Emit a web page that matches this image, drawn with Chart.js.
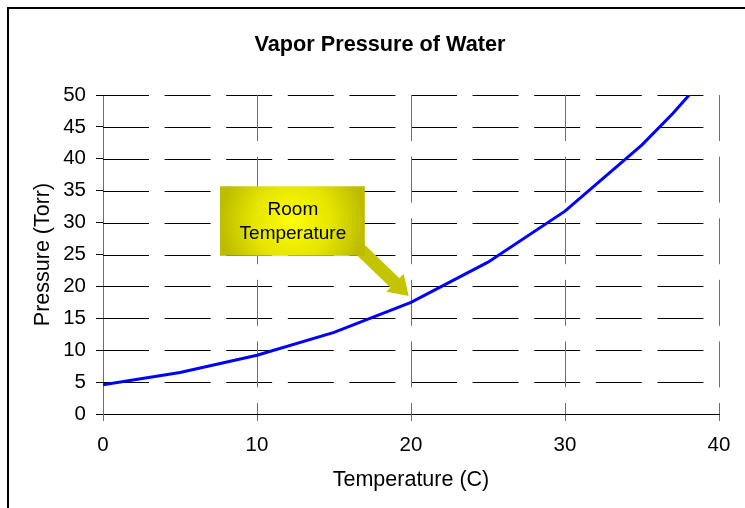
<!DOCTYPE html>
<html>
<head>
<meta charset="utf-8">
<script src="https://cdn.jsdelivr.net/npm/chart.js@4.4.1/dist/chart.umd.min.js"></script>
<style>
  html, body { margin: 0; padding: 0; background: #fff; overflow: hidden; width: 745px; height: 508px; }
  #frame { position: absolute; left: 7px; top: 7px; width: 800px; height: 600px; border: 2px solid #000; }
  #wrap { position: absolute; left: 0; top: 0; width: 760px; height: 508px; }
</style>
</head>
<body>
<div id="frame"></div>
<div id="wrap"><canvas id="vaporChart" width="760" height="508"></canvas></div>
<script>
// Vapor pressure of water (Torr) vs temperature (C)
const temps = [0, 5, 10, 15, 20, 25, 30, 35, 37, 40];
const pressures = [4.6, 6.5, 9.2, 12.8, 17.5, 23.8, 31.8, 42.2, 47.1, 55.3];

const FONT = "'Liberation Sans', Arial, sans-serif";

// annotation callout, placed in data units
const callout = {
    lines: ['Room', 'Temperature'],
    box: { x1: 7.6, x2: 17.0, y1: 35.7, y2: 24.8 },
    tail: { x: 16.7, y: 25.8 },
    tip: { x: 19.85, y: 18.5 }
};

// dashed grid drawn inside the chart area from the scale ticks
const dashedGrid = {
    id: 'dashedGrid',
    beforeDatasetsDraw(chart) {
        const { ctx, chartArea: a, scales: { x, y } } = chart;
        ctx.save();
        ctx.lineWidth = 1;
        ctx.setLineDash([46, 15.6]);
        ctx.strokeStyle = '#000';
        y.ticks.forEach(t => {
            if (t.value === 0) return;
            const py = Math.round(y.getPixelForValue(t.value)) + 0.5;
            ctx.beginPath();
            ctx.moveTo(a.left, py);
            ctx.lineTo(a.right, py);
            ctx.stroke();
        });
        ctx.strokeStyle = '#6e6e6e';
        x.ticks.forEach(t => {
            if (t.value === 0) return;
            const px = Math.round(x.getPixelForValue(t.value)) + 0.5;
            ctx.beginPath();
            ctx.moveTo(px, a.top);
            ctx.lineTo(px, a.bottom);
            ctx.stroke();
        });
        ctx.restore();
    }
};

const calloutPlugin = {
    id: 'callout',
    afterDatasetsDraw(chart) {
        const { ctx, scales: { x, y } } = chart;
        const bx1 = x.getPixelForValue(callout.box.x1), bx2 = x.getPixelForValue(callout.box.x2);
        const by1 = y.getPixelForValue(callout.box.y1), by2 = y.getPixelForValue(callout.box.y2);
        const tx = x.getPixelForValue(callout.tail.x), ty = y.getPixelForValue(callout.tail.y);
        const px = x.getPixelForValue(callout.tip.x), py = y.getPixelForValue(callout.tip.y);

        // arrow
        const dx = px - tx, dy = py - ty, len = Math.hypot(dx, dy);
        const ux = dx / len, uy = dy / len, nx = -uy, ny = ux;
        const head = 19, hw = 12.5, sw = 6.5;
        const neckX = px - ux * head, neckY = py - uy * head;
        ctx.save();
        ctx.fillStyle = '#c4c400';
        ctx.beginPath();
        ctx.moveTo(tx + nx * sw, ty + ny * sw);
        ctx.lineTo(neckX + nx * sw, neckY + ny * sw);
        ctx.lineTo(neckX + nx * hw, neckY + ny * hw);
        ctx.lineTo(px, py);
        ctx.lineTo(neckX - nx * hw, neckY - ny * hw);
        ctx.lineTo(neckX - nx * sw, neckY - ny * sw);
        ctx.lineTo(tx - nx * sw, ty - ny * sw);
        ctx.closePath();
        ctx.fill();

        // box with glow
        const cx = (bx1 + bx2) / 2, cy = (by1 + by2) / 2;
        const g = ctx.createRadialGradient(cx, cy, 0, cx, cy, (bx2 - bx1) / 2);
        g.addColorStop(0, '#ffff00');
        g.addColorStop(0.55, '#e4e400');
        g.addColorStop(1, '#bcbc00');
        ctx.fillStyle = g;
        ctx.fillRect(bx1, by1, bx2 - bx1, by2 - by1);

        ctx.fillStyle = '#000';
        ctx.font = '19px ' + FONT;
        ctx.textAlign = 'center';
        ctx.textBaseline = 'middle';
        ctx.fillText(callout.lines[0], cx + 0.5, cy - 11.5);
        ctx.fillText(callout.lines[1], cx + 0.5, cy + 13);
        ctx.restore();
    }
};

const ctx = document.getElementById('vaporChart').getContext('2d');
const vaporChart = new Chart(ctx, {
    type: 'line',
    data: {
        datasets: [{
            label: 'Vapor Pressure',
            data: temps.map((t, i) => ({ x: t, y: pressures[i] })),
            borderColor: '#0000ff',
            borderWidth: 3,
            pointRadius: 0,
            tension: 0,
            fill: false
        }]
    },
    options: {
        responsive: false,
        animation: false,
        devicePixelRatio: 1,
        layout: { padding: { left: 41, right: 41, top: 0, bottom: 0 } },
        plugins: {
            legend: { display: false },
            tooltip: { enabled: false },
            title: {
                display: true,
                text: 'Vapor Pressure of Water',
                color: '#000',
                font: { family: FONT, size: 21.7, weight: 'bold', lineHeight: 1.2 },
                padding: { top: 32, bottom: 37 }
            }
        },
        scales: {
            x: {
                type: 'linear',
                min: 0,
                max: 40,
                afterFit(scale) { scale.height = 94; },
                ticks: { stepSize: 10, color: '#000', padding: 12, font: { family: FONT, size: 20.5 } },
                grid: { drawOnChartArea: false, drawTicks: true, tickLength: 7, color: '#6e6e6e', lineWidth: 1 },
                border: { display: true, color: '#000', width: 1 },
                title: {
                    display: true,
                    text: 'Temperature (C)',
                    color: '#000',
                    font: { family: FONT, size: 21.5 },
                    padding: { top: 0, bottom: 15 }
                }
            },
            y: {
                min: 0,
                max: 50,
                afterFit(scale) { scale.width = 62; },
                ticks: { stepSize: 5, color: '#000', padding: 10, font: { family: FONT, size: 20.5 } },
                grid: { drawOnChartArea: false, drawTicks: true, tickLength: 7, color: '#000', lineWidth: 1 },
                border: { display: true, color: '#6e6e6e', width: 1 },
                title: {
                    display: true,
                    text: 'Pressure (Torr)',
                    color: '#000',
                    font: { family: FONT, size: 21.5 },
                    padding: { top: -11, bottom: 0 }
                }
            }
        }
    },
    plugins: [dashedGrid, calloutPlugin]
});
</script>
</body>
</html>
